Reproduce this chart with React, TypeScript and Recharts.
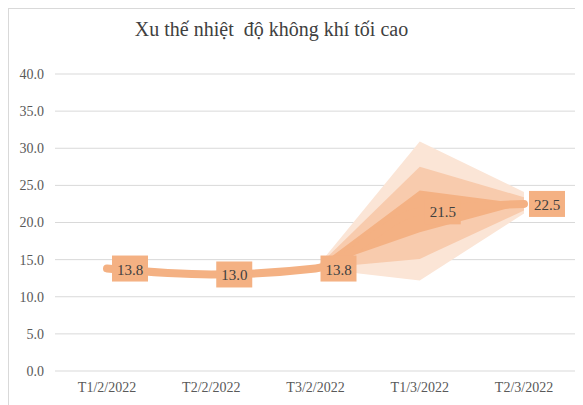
import React from "react";
import { ComposedChart, Line, Area, XAxis, YAxis, CartesianGrid, LabelList } from "recharts";

const categories = ["T1/2/2022", "T2/2/2022", "T3/2/2022", "T1/3/2022", "T2/3/2022"];
const mainValues = [13.8, 13.0, 13.8, 21.5, 22.5];
const darkLow: (number | null)[] = [null, null, 13.8, 18.7, 22.5];
const darkHigh: (number | null)[] = [null, null, 13.8, 24.3, 22.5];
const midLow: (number | null)[] = [null, null, 13.8, 15.1, 21.6];
const midHigh: (number | null)[] = [null, null, 13.8, 27.5, 23.4];
const lightLow: (number | null)[] = [null, null, 13.8, 12.2, 21.2];
const lightHigh: (number | null)[] = [null, null, 13.8, 30.9, 24.1];
const yTicks = [0, 5, 10, 15, 20, 25, 30, 35, 40];

const data = categories.map((c, i) => ({
  name: c,
  value: mainValues[i],
  dark: darkLow[i] == null ? null : [darkLow[i], darkHigh[i]],
  mid: midLow[i] == null ? null : [midLow[i], midHigh[i]],
  light: lightLow[i] == null ? null : [lightLow[i], lightHigh[i]],
}));

const ORANGE = "#F4B183";
const FONT = "'Liberation Serif', 'Times New Roman', serif";

const renderLabel = (props: any) => {
  const { x, y, value } = props;
  if (value == null) return null;
  return (
    <g>
      <rect x={x + 5} y={y - 13} width={36} height={26} fill={ORANGE} />
      <text x={x + 23} y={y + 1} textAnchor="middle" dominantBaseline="central" fontSize={15} fontFamily={FONT} fill="#404040">
        {Number(value).toFixed(1)}
      </text>
    </g>
  );
};

export default function App() {
  return (
    <div style={{ position: "relative", width: 575, height: 397, borderLeft: "1px solid #d9d9d9", borderTop: "1px solid #d9d9d9", boxSizing: "border-box", background: "#fff" }}>
      <div style={{ position: "absolute", left: 0, width: 525, top: 9, textAlign: "center", fontFamily: FONT, fontSize: 20, color: "#404040", whiteSpace: "pre" }}>
        Xu thế nhiệt  độ không khí tối cao
      </div>
      <ComposedChart width={574} height={396} data={data} margin={{ top: 65, right: 7, bottom: 4, left: 0 }}>
        <CartesianGrid vertical={false} stroke="#d9d9d9" />
        <XAxis dataKey="name" axisLine={false} tickLine={false} tickSize={0} tickMargin={11} height={30} interval={0}
          padding={{ left: 52, right: 52 }}
          tick={{ fontSize: 14, fontFamily: FONT, fill: "#595959" }} />
        <YAxis domain={[0, 40]} ticks={yTicks} axisLine={false} tickLine={false} tickSize={0} tickMargin={11} width={46}
          tickFormatter={(v: number) => v.toFixed(1)} tick={{ fontSize: 14, fontFamily: FONT, fill: "#595959" }} />
        <Area dataKey="light" type="linear" stroke="none" fill="#FBE5D6" fillOpacity={1} isAnimationActive={false} connectNulls={false} />
        <Area dataKey="mid" type="linear" stroke="none" fill="#F8CBAD" fillOpacity={1} isAnimationActive={false} connectNulls={false} />
        <Area dataKey="dark" type="linear" stroke="none" fill={ORANGE} fillOpacity={1} isAnimationActive={false} connectNulls={false} />
        <Line dataKey="value" type="monotone" stroke={ORANGE} strokeWidth={8} strokeLinecap="round" dot={false} activeDot={false} isAnimationActive={false}>
          <LabelList dataKey="value" content={renderLabel} />
        </Line>
      </ComposedChart>
    </div>
  );
}
